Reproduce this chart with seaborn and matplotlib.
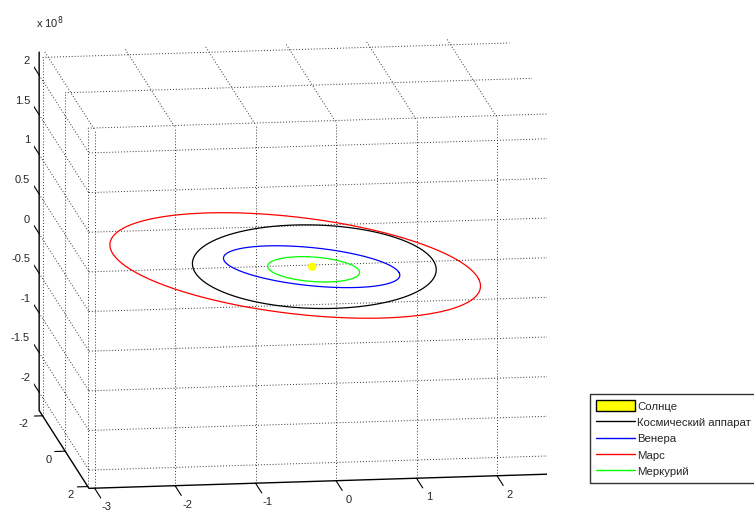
import numpy as np
import matplotlib
matplotlib.use('Agg')
import matplotlib.pyplot as plt
from matplotlib.patches import Patch
from matplotlib.lines import Line2D
from mpl_toolkits.mplot3d import proj3d
import seaborn as sns

# orbit parameters, distances in units of 1e8 km
orbit_names = ['Космический аппарат', 'Венера', 'Марс', 'Меркурий']
orbit_colors = ['black', 'blue', 'red', (0, 1, 0)]
semi_major = [1.50, 1.085, 2.28, 0.578]
eccentricity = [0.017, 0.007, 0.093, 0.206]
perihelion_deg = [180, 0, 0, -90]
# tilt of the orbit plane: z = slope_x*x + slope_y*y
slope_x = [-0.008, -0.098, -0.107, -0.061]
slope_y = [-0.128, -0.011, -0.060, -0.052]

sun_xyz = [0.0, 0.0, 0.0]

x_ticks = [-3, -2, -1, 0, 1, 2]
y_ticks = [-2, 0, 2]
z_ticks = [-2, -1.5, -1, -0.5, 0, 0.5, 1, 1.5, 2]
z_labels = ['-2', '-1.5', '-1', '-0.5', '0', '0.5', '1', '1.5', '2']

xlim = (-3.07, 2.73)
ylim = (-2.3, 2.1)
zlim = (-2.23, 2.29)

sns.set_theme(style='white')
plt.rcParams['font.family'] = ['Liberation Sans', 'DejaVu Sans']

fig = plt.figure(figsize=(7.54, 5.13), dpi=100)
ax = fig.add_axes([-0.0047, -0.0262, 0.78, 1.0], projection='3d', proj_type='ortho')
ax.view_init(elev=-12.7, azim=-82)
ax.computed_zorder = False

x0, x1 = xlim
y0, y1 = ylim
z0, z1 = zlim

# matlab-like dotted grid on the three back planes
grid_kw = dict(color='#333333', lw=0.7, linestyle=(0, (1, 2)), zorder=1)
for t in x_ticks:
    ax.plot([t, t], [y1, y1], [z0, z1], **grid_kw)   # back wall
    ax.plot([t, t], [y0, y1], [z1, z1], **grid_kw)   # top
for t in z_ticks:
    ax.plot([x0, x1], [y1, y1], [t, t], **grid_kw)   # back wall
    ax.plot([x0, x0], [y0, y1], [t, t], **grid_kw)   # left wall
for t in y_ticks:
    ax.plot([x0, x0], [t, t], [z0, z1], **grid_kw)   # left wall
    ax.plot([x0, x1], [t, t], [z1, z1], **grid_kw)   # top

# orbits
for i in range(len(orbit_names)):
    a = semi_major[i]
    e = eccentricity[i]
    E = np.linspace(0, 2 * np.pi, 400)
    xo = a * (np.cos(E) - e)
    yo = a * np.sqrt(1 - e ** 2) * np.sin(E)
    w = np.radians(perihelion_deg[i])
    x = xo * np.cos(w) - yo * np.sin(w)
    y = xo * np.sin(w) + yo * np.cos(w)
    z = slope_x[i] * x + slope_y[i] * y
    ax.plot(x, y, z, color=orbit_colors[i], lw=0.9, zorder=3)

ax.scatter([sun_xyz[0]], [sun_xyz[1]], [sun_xyz[2]], s=36, c='yellow',
           edgecolors='none', depthshade=False, zorder=4)

ax.set_xlim(*xlim)
ax.set_ylim(*ylim)
ax.set_zlim(*zlim)
ax.set_box_aspect((x1 - x0, y1 - y0, z1 - z0), zoom=1.318)
ax.set_xticks([])
ax.set_yticks([])
ax.set_zticks([])
ax.grid(False)
for axis in [ax.xaxis, ax.yaxis, ax.zaxis]:
    axis.set_pane_color((1, 1, 1, 0))
    axis.pane.set_edgecolor('none')
    axis.line.set_color((1, 1, 1, 0))

# axes lines, ticks and labels
M = ax.get_proj()


def label3d(x, y, z, s, **kw):
    px, py, _ = proj3d.proj_transform(x, y, z, M)
    ax.text2D(px, py, s, transform=ax.transData, fontsize=8, **kw)


ax.plot([x0, x0, x0, x1], [y0, y0, y1, y1], [z1, z0, z0, z0], color='black', lw=1, zorder=5)
for t in x_ticks:
    ax.plot([t, t], [y1, y1 + 0.55], [z0, z0], color='black', lw=0.8, zorder=5)
    label3d(t, y1 + 1.08, z0, str(t), ha='center', va='center')
for t in y_ticks:
    ax.plot([x0, x0 - 0.13], [t, t], [z0, z0], color='black', lw=0.8, zorder=5)
    label3d(x0 - 0.17, t, z0 - 0.1, str(t), ha='right', va='center')
for t, lab in zip(z_ticks, z_labels):
    ax.plot([x0, x0], [y0, y0 - 0.65], [t, t], color='black', lw=0.8, zorder=5)
    label3d(x0, y0 - 0.8, t, lab, ha='right', va='center')

fig.text(36 / 754, 1 - 28 / 513, r'x 10$^{8}$', fontsize=8)

handles = [Patch(facecolor='yellow', edgecolor='black', label='Солнце')]
for i in range(len(orbit_names)):
    handles.append(Line2D([], [], color=orbit_colors[i], lw=1, label=orbit_names[i]))
fig.legend(handles=handles, loc='upper left', bbox_to_anchor=(590 / 754, 1 - 394 / 513),
           fontsize=8.2, frameon=True, fancybox=False, edgecolor='black',
           borderpad=0.55, labelspacing=0.44, handlelength=3.4, handleheight=1.1,
           handletextpad=0.2, borderaxespad=0)

fig.savefig('out.png', dpi=100)
